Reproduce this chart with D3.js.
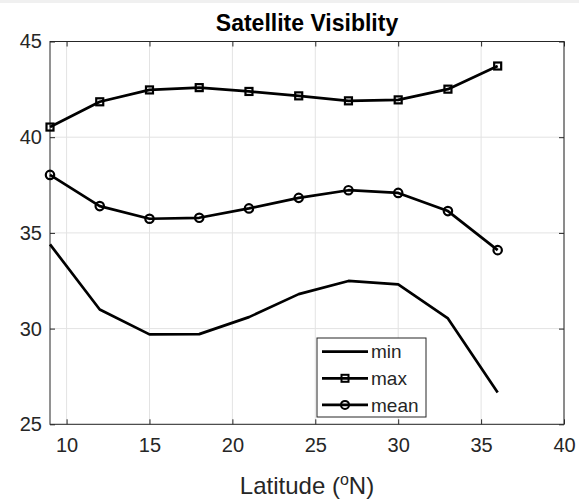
<!DOCTYPE html>
<html>
<head>
<meta charset="utf-8">
<script src="https://cdn.jsdelivr.net/npm/d3@7"></script>
<style>
  body { margin: 0; background: #fff; }
  svg { display: block; font-family: Arial, "Liberation Sans", sans-serif; }
</style>
</head>
<body>
<svg id="chart" width="579" height="500"></svg>
<script>
'use strict';

// latitude samples (deg N)
var latitude = [9, 12, 15, 18, 21, 24, 27, 30, 33, 36];

// visible satellites
var minVis  = [34.4, 31.0, 29.7, 29.71, 30.6, 31.8, 32.49, 32.31, 30.53, 26.66];
var maxVis  = [40.53, 41.85, 42.47, 42.59, 42.39, 42.16, 41.9, 41.95, 42.51, 43.72];
var meanVis = [38.03, 36.4, 35.74, 35.79, 36.28, 36.83, 37.23, 37.09, 36.14, 34.1];

var xTicks = [10, 15, 20, 25, 30, 35, 40];
var yTicks = [25, 30, 35, 40, 45];

var series = [
	{ name: 'min',  values: minVis,  marker: 'none' },
	{ name: 'max',  values: maxVis,  marker: 'square' },
	{ name: 'mean', values: meanVis, marker: 'circle' }
];

var svg = d3.select('#chart');
var box = { left: 50, right: 564, top: 41.5, bottom: 424.3 };

var x = d3.scaleLinear().domain([9, 40]).range([box.left, box.right]);
var y = d3.scaleLinear().domain([25, 45]).range([box.bottom, box.top]);

// thin grey strip at the very top of the figure
svg.append('rect').attr('width', 579).attr('height', 3).attr('fill', '#f0f0f0');

// - grid
var grid = svg.append('g');
grid.selectAll('line.gx').data(xTicks).join('line')
	.attr('x1', d => x(d)).attr('x2', d => x(d))
	.attr('y1', box.top).attr('y2', box.bottom)
	.attr('stroke', '#e3e3e3').attr('stroke-width', 1);
grid.selectAll('line.gy').data(yTicks).join('line')
	.attr('x1', box.left).attr('x2', box.right)
	.attr('y1', d => y(d)).attr('y2', d => y(d))
	.attr('stroke', '#e3e3e3').attr('stroke-width', 1);

// - axes (MATLAB style, ticks inside, box on)
var tickLen = 5;
var axisColor = '#262626';

var xAxis = svg.append('g')
	.attr('transform', `translate(0,${box.bottom})`)
	.call(d3.axisBottom(x).tickValues(xTicks).tickSize(-tickLen).tickPadding(14));
var xTop = svg.append('g')
	.attr('transform', `translate(0,${box.top})`)
	.call(d3.axisTop(x).tickValues(xTicks).tickSize(-tickLen).tickFormat(''));
var yAxis = svg.append('g')
	.attr('transform', `translate(${box.left},0)`)
	.call(d3.axisLeft(y).tickValues(yTicks).tickSize(-tickLen).tickPadding(8));
var yRight = svg.append('g')
	.attr('transform', `translate(${box.right},0)`)
	.call(d3.axisRight(y).tickValues(yTicks).tickSize(-tickLen).tickFormat(''));

[xAxis, xTop, yAxis, yRight].forEach(function(g)
{
	g.select('.domain').remove();
	g.selectAll('line').attr('stroke', axisColor);
	g.selectAll('text')
		.attr('fill', axisColor)
		.style('font-size', '20px')
		.style('font-family', 'Arial, "Liberation Sans", sans-serif');
});
xAxis.selectAll('text').attr('dy', '0.71em');

svg.append('rect')
	.attr('x', box.left).attr('y', box.top)
	.attr('width', box.right - box.left).attr('height', box.bottom - box.top)
	.attr('fill', 'none').attr('stroke', axisColor).attr('stroke-width', 1);

// - lines
var line = d3.line().x((d, i) => x(latitude[i])).y(d => y(d));

var plot = svg.append('g');
series.forEach(function(s)
{
	plot.append('path')
		.datum(s.values)
		.attr('d', line)
		.attr('fill', 'none')
		.attr('stroke', '#000')
		.attr('stroke-width', 2.7)
		.attr('stroke-linejoin', 'round');

	drawMarkers(plot, s.marker, s.values.map((v, i) => [x(latitude[i]), y(v)]));
});

function drawMarkers(g, type, pts)
{
	if (type === 'square')
	{
		g.selectAll(null).data(pts).join('rect')
			.attr('x', d => d[0] - 3.5).attr('y', d => d[1] - 3.5)
			.attr('width', 7).attr('height', 7)
			.attr('fill', 'none').attr('stroke', '#000').attr('stroke-width', 2.2);
	} else if (type === 'circle')
	{
		g.selectAll(null).data(pts).join('circle')
			.attr('cx', d => d[0]).attr('cy', d => d[1]).attr('r', 4.2)
			.attr('fill', 'none').attr('stroke', '#000').attr('stroke-width', 2.2);
	}
}

// - legend
var leg = svg.append('g').attr('transform', 'translate(317,338)');
leg.append('rect')
	.attr('width', 109).attr('height', 79)
	.attr('fill', '#fff').attr('stroke', axisColor).attr('stroke-width', 1);

series.forEach(function(s, i)
{
	var ly = 13.7 + i * 26.6;
	leg.append('line')
		.attr('x1', 5).attr('x2', 51).attr('y1', ly).attr('y2', ly)
		.attr('stroke', '#000').attr('stroke-width', 2.7);
	if (s.marker === 'square')
		leg.append('rect').attr('x', 24.5).attr('y', ly - 3.5).attr('width', 7).attr('height', 7)
			.attr('fill', 'none').attr('stroke', '#000').attr('stroke-width', 2);
	else if (s.marker === 'circle')
		leg.append('circle').attr('cx', 28).attr('cy', ly).attr('r', 4)
			.attr('fill', 'none').attr('stroke', '#000').attr('stroke-width', 2);
	leg.append('text')
		.attr('x', 54).attr('y', ly).attr('dy', '0.35em')
		.attr('fill', axisColor)
		.style('font-size', '19px')
		.text(s.name);
});

// - title and labels
svg.append('text')
	.attr('x', (box.left + box.right) / 2).attr('y', 31)
	.attr('text-anchor', 'middle')
	.attr('font-weight', 'bold')
	.style('font-size', '23px')
	.attr('fill', '#000')
	.text('Satellite Visiblity');

var xl = svg.append('text')
	.attr('x', (box.left + box.right) / 2).attr('y', 494)
	.attr('text-anchor', 'middle')
	.style('font-size', '24px')
	.attr('fill', axisColor);
xl.append('tspan').text('Latitude (');
xl.append('tspan').attr('dy', -9).style('font-size', '16px').text('o');
xl.append('tspan').attr('dy', 9).text('N)');
</script>
</body>
</html>
